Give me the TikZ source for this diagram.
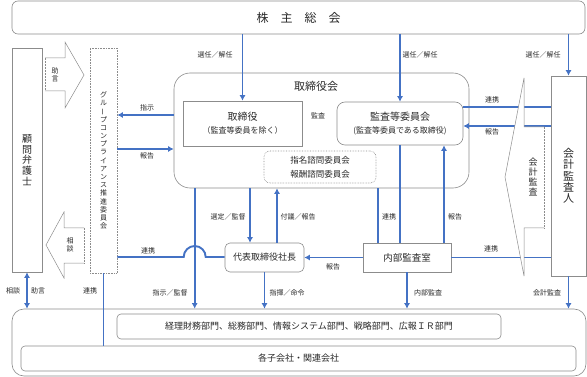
\documentclass[tikz,border=0pt]{standalone}
\usepackage{fontspec}
\setmainfont{Noto Sans CJK JP}
\usetikzlibrary{arrows.meta,calc}
\definecolor{kblue}{RGB}{68,114,196}
\definecolor{lgray}{RGB}{140,140,140}
\definecolor{txt}{RGB}{40,40,40}
\newcommand{\vchoon}{\rotatebox[origin=c]{90}{ー}}

\begin{document}
\begin{tikzpicture}[x=1pt,y=-1pt,
		box/.style={draw=lgray, line width=0.6pt, inner sep=0pt, text=txt, align=center},
		dotbox/.style={box, densely dotted},
		lbl/.style={font=\fontsize{7}{8}\selectfont, text=txt, inner sep=0pt, align=center},
		link/.style={draw=kblue, line width=1.9pt},
		arr/.style={link, -{Latex[length=5.5pt,width=6pt]}}]
		\useasboundingbox (0,0) rectangle (587,377);
		
		% boxes
		\node[box, rounded corners=6pt, minimum width=573pt, minimum height=33pt, font=\fontsize{12}{14}\selectfont] (soukai) at (298.5,17.5) {株　主　総　会};
		\node[box, minimum width=30pt, minimum height=224pt, font=\fontsize{10}{10.8}\selectfont] (komon) at (27,160) {顧\\問\\弁\\護\\士};
		\node[dotbox, minimum width=27pt, minimum height=225pt, font=\fontsize{7}{8.2}\selectfont] (gc) at (103.5,160.5) {グ\\ル\\\vchoon\\プ\\コ\\ン\\プ\\ラ\\イ\\ア\\ン\\ス\\推\\進\\委\\員\\会};
		\node[box, rounded corners=16pt, minimum width=295pt, minimum height=115pt] (torikai) at (321.5,130.5) {};
		\node[font=\fontsize{11}{12}\selectfont, text=txt, inner sep=0pt] (torikailbl) at (316,86) {取締役会};
		\node[box, minimum width=119pt, minimum height=45pt, font=\fontsize{10}{13}\selectfont] (torishimari) at (242.5,123.5) {取締役\\{\fontsize{8}{13}\selectfont （監査等委員を除く）}};
		\node[box, rounded corners=8pt, minimum width=126pt, minimum height=43pt, font=\fontsize{10}{13}\selectfont] (kansatou) at (400,123.5) {監査等委員会\\{\fontsize{8}{13}\selectfont (監査等委員である取締役)}};
		\node[dotbox, rounded corners=6pt, minimum width=112pt, minimum height=32pt, font=\fontsize{8.5}{14}\selectfont] (shimon) at (320,167) {指名諮問委員会\\報酬諮問委員会};
		\node[box, rounded corners=5pt, minimum width=79pt, minimum height=29pt, font=\fontsize{9}{10}\selectfont] (daihyo) at (264.5,257.5) {代表取締役社長};
		\node[box, minimum width=88pt, minimum height=29pt, font=\fontsize{9.5}{10}\selectfont] (naibu) at (407,257.5) {内部監査室};
		\node[box, minimum width=35pt, minimum height=200pt, font=\fontsize{11}{11.3}\selectfont] (kaikei) at (568.5,176) {会\\計\\監\\査\\人};
		\node[box, rounded corners=12pt, minimum width=574pt, minimum height=67pt] (group) at (299,342.5) {};
		\node[box, rounded corners=4pt, minimum width=384pt, minimum height=25pt, font=\fontsize{9}{10}\selectfont] (bumon) at (309,326.5) {経理財務部門、総務部門、情報システム部門、戦略部門、広報ＩＲ部門};
		\node[box, rounded corners=4pt, minimum width=555pt, minimum height=25pt, font=\fontsize{9}{10}\selectfont] (kogaisha) at (298.5,358.5) {各子会社・関連会社};
		
		% block arrows on the left
		\draw[lgray, line width=0.5pt] (45,58) -- (65,58) -- (65,42) -- (84,75) -- (65,108) -- (65,91) -- (45,91);
		\draw[lgray, line width=0.5pt, densely dotted] (45,58) -- (45,91);
		\draw[lgray, line width=0.5pt] (84,228) -- (64,228) -- (64,212) -- (46,245) -- (64,278) -- (64,263) -- (84,263);
		\draw[lgray, line width=0.5pt, densely dotted] (84,228) -- (84,263);
		
		% connectors
		\coordinate (v1) at ($(torikai.south west)+(21,0)$);
		\draw[arr] (torishimari.north |- soukai.south) -- (torishimari.north);
		\draw[arr] (kansatou.north |- soukai.south) -- (kansatou.north);
		\draw[arr] (kaikei.north |- soukai.south) -- (kaikei.north);
		\draw[arr] ($(torikai.west)+(0,-15.5)$) coordinate (c1) -- (c1 -| gc.east);
		\draw[arr] ($(gc.east)+(0,-11.5)$) coordinate (c2) -- (c2 -| torikai.west);
		\draw[link] ($(gc.east)+(0,96.5)$) coordinate (h1) -- ($(h1 -| v1)+(-11,0)$) arc[start angle=180, end angle=0, radius=11pt] -- (h1 -| daihyo.west);
		\draw[arr] (v1) -- (v1 |- group.north);
		\draw[arr] ($(daihyo.north)+(-14.5,0)$) coordinate (d1) (d1 |- torikai.south) -- (d1);
		\draw[arr] ($(daihyo.north)+(12.5,0)$) coordinate (d2) -- (d2 |- torikai.south);
		\draw[arr] (daihyo.south) -- (daihyo.south |- group.north);
		\draw[arr] (naibu.west) -- (daihyo.east);
		\draw[link] ($(naibu.north)+(-29,0)$) coordinate (n1) -- (n1 |- torikai.south);
		\draw[link] (kansatou.south |- naibu.north) -- (kansatou.south);
		\draw[arr] ($(naibu.north)+(37,0)$) coordinate (n2) -- (n2 |- kansatou.south);
		\draw[arr] (naibu.south) -- (naibu.south |- group.north);
		\draw[arr] (kaikei.south) -- (kaikei.south |- group.north);
		\draw[link] ($(kansatou.east)+(0,-16.5)$) coordinate (k1) -- (k1 -| kaikei.west);
		\draw[arr] ($(kaikei.west)+(0,-50)$) coordinate (k2) -- (k2 -| kansatou.east);
		\draw[link] (naibu.east) -- (naibu.east -| kaikei.west);
		\draw[link] (gc.south) -- (gc.south |- kogaisha.north);
		\draw[link, {Latex[length=5.5pt,width=6pt]}-{Latex[length=5.5pt,width=6pt]}] (komon.south) -- (komon.south |- group.north);
		
		% audit arrow in front of the lines
		\fill[white] (544,127) -- (524,127) -- (524,78) -- (505,177) -- (524,276) -- (524,228) -- (544,228) -- cycle;
		\draw[lgray, line width=0.5pt] (544,127) -- (524,127) -- (524,78) -- (505,177) -- (524,276) -- (524,228) -- (544,228);
		\draw[lgray, line width=0.5pt, densely dotted] (544,127) -- (544,228);
		
		% labels
		\node[lbl] (l1) at (215,55) {選任／解任};
		\node[lbl] (l2) at (420,55) {選任／解任};
		\node[lbl] (l3) at (543,55) {選任／解任};
		\node[lbl] (l4) at (147,108) {指示};
		\node[lbl] (l5) at (147,156) {報告};
		\node[lbl] (l6) at (318,116) {監査};
		\node[lbl] (l7) at (148,251) {連携};
		\node[lbl] (l8) at (170,293) {指示／監督};
		\node[lbl] (l9) at (228,217) {選定／監督};
		\node[lbl] (l10) at (298,217) {付議／報告};
		\node[lbl] (l11) at (287,293) {指揮／命令};
		\node[lbl] (l12) at (333,267) {報告};
		\node[lbl] (l13) at (389,217) {連携};
		\node[lbl] (l14) at (455,217) {報告};
		\node[lbl] (l15) at (428,293) {内部監査};
		\node[lbl] (l16) at (547,293) {会計監査};
		\node[lbl] (l17) at (492,100) {連携};
		\node[lbl] (l18) at (492,132) {報告};
		\node[lbl] (l19) at (491,249) {連携};
		\node[lbl] (l20) at (90,291) {連携};
		\node[lbl] (l21) at (13,291) {相談};
		\node[lbl] (l22) at (38,291) {助言};
		\node[lbl] (l23) at (55,75) {助\\言};
		\node[lbl] (l24) at (70,245) {相\\談};
		\node[lbl, font=\fontsize{9}{10.3}\selectfont] (l25) at (533,177) {会\\計\\監\\査};
	\end{tikzpicture}
\end{document}
